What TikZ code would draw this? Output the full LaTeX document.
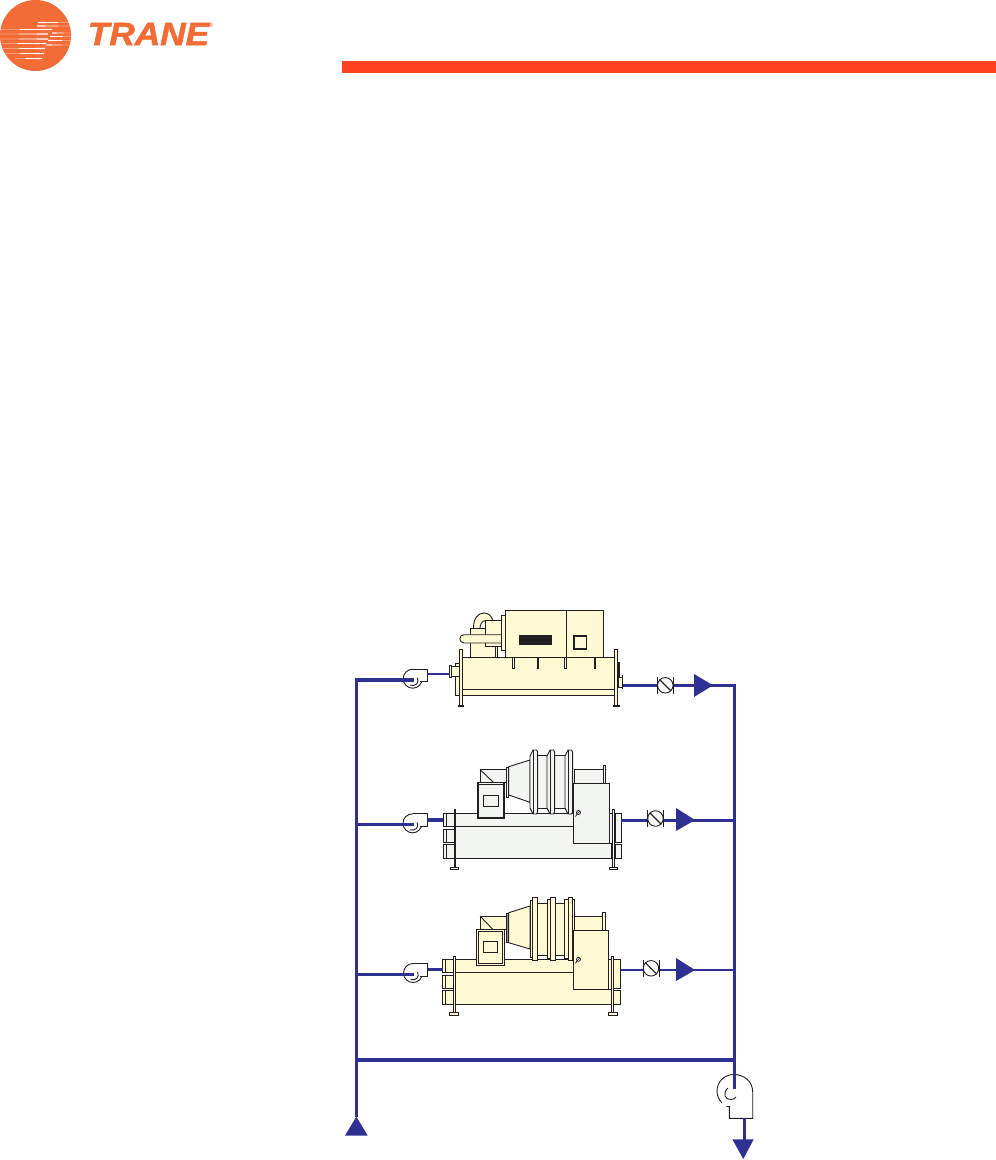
\documentclass[tikz,border=0pt]{standalone}
\usepackage{fontspec}
\setmainfont{Liberation Sans}
\definecolor{cream}{HTML}{FFFAD3}
\definecolor{pale}{HTML}{F3F5F3}
\definecolor{ink}{HTML}{231F20}
\definecolor{pipeblue}{HTML}{2E3192}
\definecolor{logoorange}{HTML}{F36C36}
\definecolor{barred}{HTML}{FF4320}
\tikzset{
  eq/.style={draw=ink,line width=.9pt,line join=miter},
  thick eq/.style={draw=ink,line width=1.8pt},
  pipe/.style={draw=pipeblue,line width=3.2pt,line cap=butt,line join=miter},
  thin pipe/.style={draw=pipeblue,line width=2.6pt},
  tip/.style={fill=pipeblue,draw=none},
  valve/.style={circle,draw=ink,line width=.9pt,fill=white,inner sep=0pt,minimum size=15.5pt},
}
% pump: #1 name, #2 x, #3 y
\newcommand\SmallPump[3]{%
  \coordinate (#1) at (#2,#3);
  \draw[eq,fill=white] (#1) circle[radius=9.5];
  \fill[white] (#2,#3-9.5) rectangle (#2+14.5,#3+3);
  \draw[eq] (#2,#3-9.5) -- (#2+14.5,#3-9.5) -- (#2+14.5,#3+3) -- (#2+7,#3+3);
  \draw[eq] (#2-2.5,#3+6.5) .. controls (#2+3,#3+8) and (#2+7,#3+4) .. (#2+4.5,#3-1);
}
% check valve: #1 name, #2 x, #3 y
\newcommand\CheckValve[3]{%
  \node[valve] (#1) at (#2,#3) {};
  \draw[eq] (#2-8,#3-8.5) -- (#2-8,#3+8.5) (#2+8,#3-8.5) -- (#2+8,#3+8.5);
  \draw[eq,line width=1.1pt] (#1.north west) -- (#1.south east);
}
% gauge: #1 x, #2 y
\newcommand\Gauge[2]{%
  \draw[eq,fill=white,line width=.8pt] (#1,#2) circle[radius=2];
  \draw[eq,line width=.8pt] (#1-1.4,#2+1.4) -- (#1-3,#2+4);
  \draw[eq,line width=.6pt] (#1+1.4,#2-1.4) -- (#1-1.4,#2+1.4);
}
% compressor ring: #1 x, #2 top, #3 bottom, #4 fill
\newcommand\CompRing[4]{%
  \draw[eq,fill=#4] (#1,#2+6) -- (#1+3,#2) -- (#1+6.5,#2) -- (#1+7.6,#2+2) -- (#1+7.6,#3-2) -- (#1+6.5,#3) -- (#1+3,#3) -- (#1,#3-6) -- cycle;
  \draw[eq] (#1+3,#2) -- (#1+3,#3);
}
% tapered logo streak: #1 thin-end x, #2 thick-end x, #3 y
\newcommand\Streak[3]{%
  \fill[white] (#1,#3) -- (#2,#3-.65) -- (#2,#3+.65) -- cycle;
}
\begin{document}
\begin{tikzpicture}[x=1pt,y=-1pt]
\useasboundingbox (0,0) rectangle (996,1160);
\fill[white] (0,0) rectangle (996,1160);

% ---------- logo and band
\node[circle,fill=logoorange,inner sep=0pt,minimum size=71pt] (logo) at (35.5,35.5) {};
\foreach \a/\b/\c in {70/38/22.5,71/37/26,0/52/29.5,0/48/34,0/48/39,0/46/43.5,3/45/48.5,5/44/53.5,15/42/58.5,71/52/33,71/50/36.5,71/48/40.5,71/46/45}
  \Streak{\a}{\b}{\c};
\node[inner sep=0pt,text=logoorange,font=\fontsize{32}{32}\selectfont\bfseries\itshape\addfontfeature{FakeBold=1.6},anchor=center,xscale=1.1] (brand) at (148.5,34) {TRANE};
\node[inner sep=0pt,text=logoorange,font=\fontsize{6}{6}\selectfont] (reg) at (211,25.5) {®};
\fill[barred] (342,61) rectangle (996,73);

% ---------- junctions
\coordinate (mainL top) at (356.3,680);
\coordinate (mainL low) at (356.3,1117);
\coordinate (mainR top) at (734.5,685.3);
\coordinate (mainR low) at (734.5,1089);
\coordinate (jL2) at (356.3,824.3);
\coordinate (jL3) at (356.3,974.3);
\coordinate (jL4) at (356.3,1060);
\coordinate (jR2) at (734.5,820.3);
\coordinate (jR3) at (734.5,970);
\coordinate (jR4) at (734.5,1060);

% ---------- chiller 1
\draw[eq,fill=cream] (473.5,628.5) .. controls (473.5,618) and (478,613) .. (484,613) .. controls (488,613) and (491,615) .. (493,620.5) -- (485.5,620.5) .. controls (482,621) and (480,624) .. (480,628.5) -- cycle;
\draw[eq,fill=cream] (470,640) -- (470,657) -- (497.3,657) -- (497.3,640);
\draw[eq,fill=cream] (470,628.5) rectangle (485.5,636);
\draw[eq,fill=cream] (485.5,620.5) rectangle (501.5,646);
\draw[eq,fill=cream] (495,646) rectangle (497.3,657);
\draw[eq,fill=cream] (501.5,634.7) -- (464,634.7) .. controls (458.5,634.7) and (458.5,643) .. (464,643) -- (501.5,643);
\draw[eq,fill=cream] (501.5,615) rectangle (506,650);
\draw[eq,fill=cream] (505.7,610) rectangle (603.5,657);
\draw[eq] (566,610) -- (566,657);
\fill[ink] (519,635) rectangle (552,645);
\draw[thick eq] (574,636) rectangle (586.5,649);
\draw[eq,fill=cream] (455,663) rectangle (460,695);
\draw[eq,fill=cream] (451.7,666) rectangle (459,676);
\draw[eq,fill=cream] (449.7,665) rectangle (451.7,677);
\draw[eq,fill=cream] (462,657) rectangle (614.5,695);
\draw[eq] (462,689.5) -- (614.5,689.5);
\foreach \x in {537.7,595} \draw[ink,line width=1.8pt] (\x,657) -- (\x,668.5);
\foreach \x in {513,565} \draw[eq,fill=white,line width=.7pt] (\x-1,657.5) rectangle (\x+1,668.5);
\draw[eq,fill=cream] (459.5,649.5) rectangle (462.5,706);
\draw[ink,line width=1.6pt] (457.5,706) -- (463.5,706);
\fill[ink] (618,662) rectangle (619.6,685);
\draw[eq,fill=cream] (618,677) rectangle (622,687);
\draw[ink,line width=1.6pt] (622.3,675) -- (622.3,689);
\draw[eq,fill=cream] (614.5,649.5) rectangle (617.8,706);
\draw[ink,line width=1.6pt] (613,706) -- (619.5,706);

% ---------- chiller 2
\draw[eq,fill=pale] (574.7,769.5) rectangle (603.5,783);
\draw[eq,fill=pale] (603.3,765) rectangle (605.3,783);
\draw[eq,fill=pale] (446.7,813) rectangle (455,826.5);
\draw[eq,fill=pale] (446.7,829) rectangle (455,842);
\draw[eq,fill=pale] (446.7,844.5) rectangle (455,858);
\draw[eq,fill=pale] (443.3,813) rectangle (446.7,826.5);
\draw[eq,fill=pale] (443.3,829) rectangle (446.7,842);
\draw[eq,fill=pale] (443.3,844.5) rectangle (446.7,858);
\draw[eq,fill=pale] (455,813) rectangle (611,858);
\draw[eq] (455,826.5) -- (611,826.5);
\draw[eq,fill=pale] (508.7,766.7) -- (530,760) -- (530,802.3) -- (508.7,795) -- cycle;
\draw[eq,fill=pale] (537.7,755.7) rectangle (565,808.5);
\CompRing{530}{750}{814}{pale}
\CompRing{547}{750}{814}{pale}
\CompRing{565}{750}{814}{pale}
\draw[eq,fill=pale] (506,767) rectangle (508.7,797);
\draw[eq,fill=pale] (480,769.5) rectangle (506,782);
\draw[eq] (480,769.5) -- (493,782);
\draw[thick eq,fill=pale] (478,782.5) rectangle (504,818);
\draw[eq] (478,784.5) -- (504,784.5);
\draw[eq] (483,795) rectangle (498.7,806.7);
\draw[eq,fill=pale] (573,783.5) rectangle (609,843.5);
\Gauge{578.5}{812.5}
\draw[eq,fill=pale] (615,813) rectangle (621,842);
\draw[eq,fill=pale] (615,844.5) rectangle (621,858);
\draw[eq,fill=pale] (609,813) rectangle (612,843.5);
\draw[ink,line width=1.8pt] (455,809) -- (455,867);
\draw[eq,fill=white] (450.5,867) rectangle (458.5,869);
\draw[eq,fill=white] (612.5,809.5) rectangle (614.7,867);
\draw[eq,fill=white] (609.5,867) rectangle (617.5,869);

% ---------- chiller 3
\draw[eq,fill=cream] (574.7,916) rectangle (603,930);
\draw[eq,fill=cream] (602.5,912.5) rectangle (605.5,930);
\draw[eq,fill=cream] (445.3,959.3) rectangle (453.5,972.3);
\draw[eq,fill=cream] (445.3,975) rectangle (453.5,988);
\draw[eq,fill=cream] (445.3,990.7) rectangle (453.5,1004.7);
\draw[eq,fill=cream] (442.7,959.3) rectangle (445.3,972.3);
\draw[eq,fill=cream] (442.7,975) rectangle (445.3,988);
\draw[eq,fill=cream] (442.7,990.7) rectangle (445.3,1004.7);
\draw[eq,fill=cream] (455,959.3) rectangle (611,1004.7);
\draw[eq] (455,972.3) -- (611,972.3);
\draw[eq,fill=cream] (508.7,912.7) -- (530,906) -- (530,949) -- (508.7,942.7) -- cycle;
\draw[eq,fill=cream] (537.7,903) rectangle (566,955);
\draw[eq,fill=cream] (530,900) rectangle (532.5,957);
\draw[eq,fill=cream] (532.5,897.5) rectangle (537.7,960.5);
\draw[eq,fill=cream] (547.3,899.5) rectangle (550.3,958);
\draw[eq,fill=cream] (550.3,897.5) rectangle (555,960.5);
\draw[eq,fill=cream] (564,899.5) rectangle (568,958);
\draw[eq,fill=cream] (568,897.5) rectangle (572,960.5);
\draw[eq,fill=cream] (572,899.5) rectangle (574,958);
\fill[ink!50] (506.5,913) rectangle (508.7,942.5);
\draw[eq] (506.5,913) rectangle (508.7,942.5);
\draw[eq,fill=cream] (480,916) rectangle (506.5,929.5);
\draw[eq] (480,916) -- (493,929.5);
\draw[eq,fill=cream] (476.5,929.5) rectangle (504.7,965.5);
\draw[eq] (478.8,931.5) rectangle (502.5,963.3);
\draw[eq] (483.3,941.3) rectangle (497.3,952.7);
\draw[eq,fill=cream] (573,930.5) rectangle (608.7,989.3);
\Gauge{578.5}{959.3}
\draw[eq,fill=cream] (613.7,959.3) rectangle (620.7,988.7);
\draw[eq,fill=cream] (613.7,990.7) rectangle (620.7,1004.7);
\draw[eq,fill=cream] (608.7,959.3) rectangle (611,989.3);
\draw[eq,fill=cream] (453.3,956) rectangle (455.7,1012.7);
\draw[eq,fill=cream] (449.3,1012.7) rectangle (458.7,1015.7);
\draw[eq,fill=cream] (611.3,956) rectangle (613.7,1012.7);
\draw[eq,fill=cream] (608.5,1012.7) rectangle (617.5,1015.7);

% ---------- pumps
\SmallPump{p1}{412.7}{678.7}
\SmallPump{p2}{412.5}{823.3}
\SmallPump{p3}{413}{973}
\coordinate (p4) at (733.5,1091);
\draw[eq,fill=white] (p4) circle[radius=16.5];
\draw[eq,fill=white] (733.5,1074.5) .. controls (745,1074.5) and (752.7,1082) .. (752.7,1092) -- (752.7,1118.3) -- (729.3,1118.3) -- (729.3,1106);
\fill[white] (722,1080) rectangle (740,1105.5);
\draw[eq] (728,1088) .. controls (722,1093) and (725,1100) .. (731,1099.5) .. controls (733,1099.5) and (735,1098.5) .. (736,1097);

% ---------- pipework
\coordinate (e1) at (413.5,680);
\coordinate (e2) at (414,824.3);
\coordinate (e3) at (414,974.3);
\coordinate (a1) at (426.7,674);
\coordinate (b1) at (449.5,674);
\coordinate (a2) at (427,820);
\coordinate (b2) at (443,820);
\coordinate (a3) at (427.5,969.3);
\coordinate (b3) at (442.5,969.3);
\draw[thin pipe] (a1) -- (b1);
\draw[pipe] (a2) -- (b2);
\draw[thin pipe] (a3) -- (b3);
\coordinate (o1) at (623,685.3);
\coordinate (o2) at (621,820.3);
\coordinate (o3) at (621,970);
\draw[pipe] (o1) -- (mainR top) -- (mainR low);
\draw[pipe] (o2) -- (jR2);
\draw[thin pipe] (o3) -- (jR3);
\draw[pipe] (e1) -- (mainL top) -- (mainL low);
\draw[pipe] (e2) -- (jL2);
\draw[pipe] (e3) -- (jL3);
\draw[pipe] (jL4) -- (jR4);
\coordinate (out top) at (744.3,1118.3);
\coordinate (out low) at (744.3,1141);
\draw[pipe] (out top) -- (out low);

% ---------- valves and flow arrows
\CheckValve{v1}{665.3}{685.3}
\CheckValve{v2}{655.5}{818.5}
\CheckValve{v3}{651}{968.3}
\fill[tip] (694,674) -- (713,685.3) -- (694,697) -- cycle;
\fill[tip] (676,808) -- (695,820) -- (676,831) -- cycle;
\fill[tip] (676,958) -- (695,970) -- (676,981) -- cycle;
\fill[tip] (732.3,1139.3) -- (753.7,1139.3) -- (743.3,1159) -- cycle;
\fill[tip] (356.3,1116.7) -- (367.7,1135.5) -- (345,1135.5) -- cycle;
\end{tikzpicture}
\end{document}
